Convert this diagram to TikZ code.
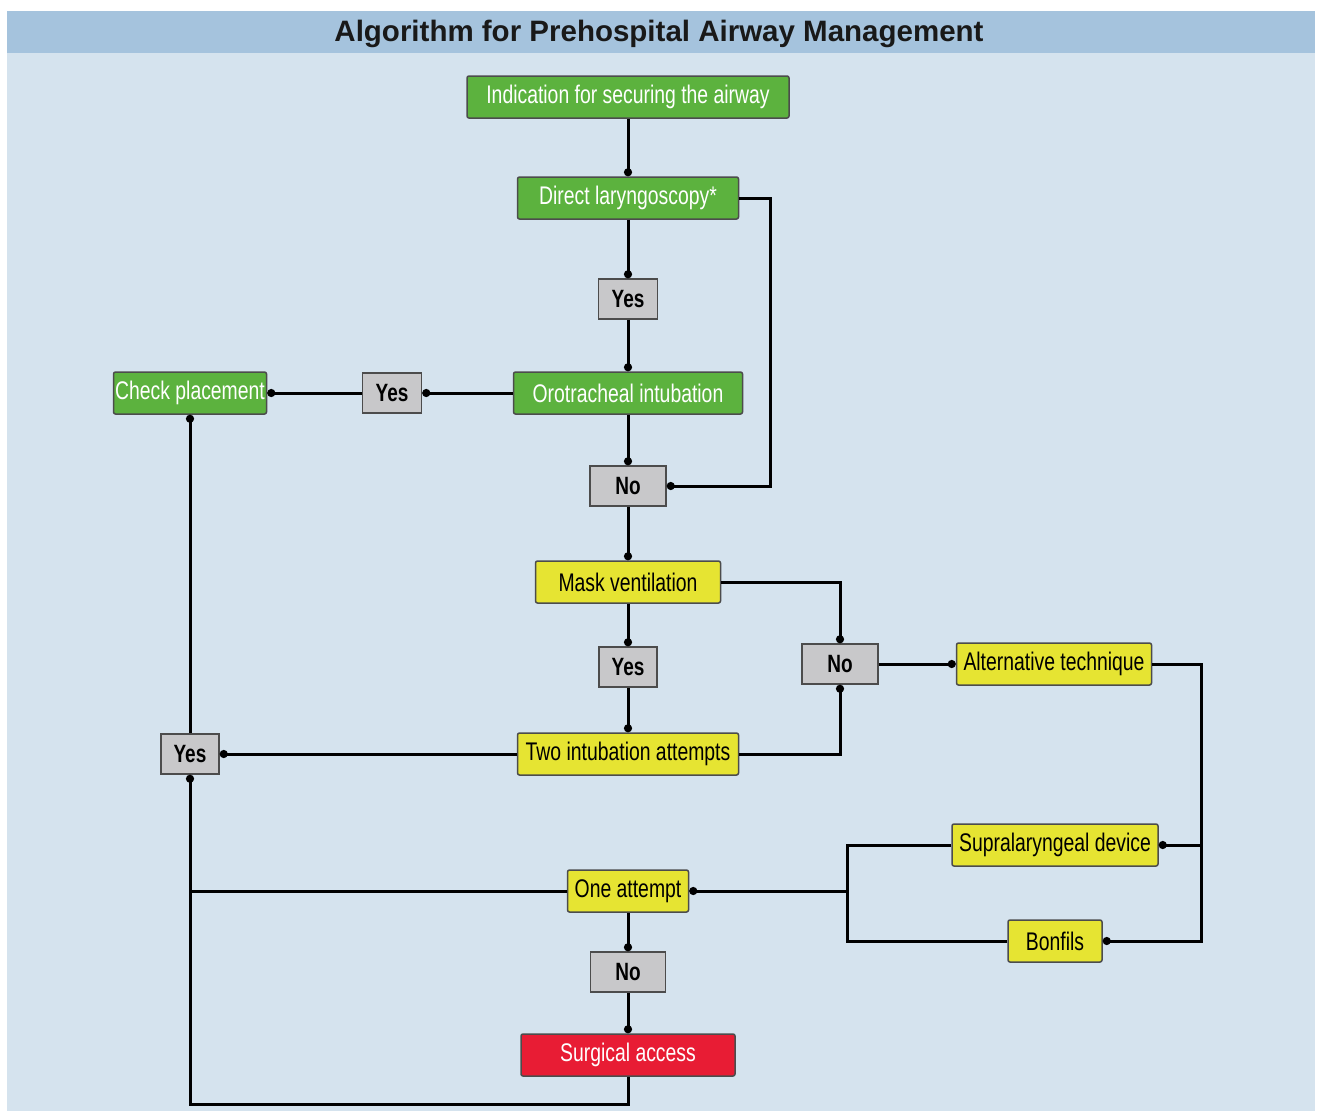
\documentclass[tikz,border=0pt]{standalone}
\usepackage{fontspec}
\setmainfont{Liberation Sans}
\newfontfamily\narrowfont[FakeStretch=0.76]{Liberation Sans}
\usetikzlibrary{arrows.meta}

\definecolor{sfondo}{RGB}{213,227,238}
\definecolor{barra}{RGB}{165,195,221}
\definecolor{verde}{RGB}{92,178,62}
\definecolor{giallo}{RGB}{230,228,50}
\definecolor{rosso}{RGB}{232,28,52}
\definecolor{grigio}{RGB}{200,200,202}

\tikzset{
	box/.style={draw=black!70, line width=1.5pt, rounded corners=2pt, inner sep=0pt,
		minimum height=42pt, font=\narrowfont\fontsize{25.5}{30}\selectfont},
	verdebox/.style={box, fill=verde, text=white},
	giallobox/.style={box, fill=giallo, text=black},
	rossobox/.style={box, fill=rosso, text=white},
	grigiobox/.style={box, fill=grigio, rounded corners=0pt, minimum height=40pt,
		font=\narrowfont\bfseries\fontsize{25}{30}\selectfont},
	linea/.style={line width=3pt, draw=black},
	freccia/.style={linea, -{Circle[length=8pt]}}
}

\begin{document}
\begin{tikzpicture}[x=1pt, y=-1pt]
	\useasboundingbox (0,0) rectangle (1318,1111);

	% Sfondo
	\fill[sfondo] (7,53) rectangle (1315,1111);
	\fill[barra] (7,11) rectangle (1315,53);
	\node[font=\bfseries\fontsize{29.5}{34}\selectfont, text=black!90] (titolo) at (659,34)
		{Algorithm for Prehospital Airway Management};

	% Blocchi
	\node[verdebox, minimum width=322pt] (indicazione) at (628,97) {Indication for securing the airway};
	\node[verdebox, minimum width=221pt] (diretta) at (628,198) {Direct laryngoscopy*};
	\node[grigiobox, minimum width=59pt] (si1) at (628,299) {Yes};
	\node[verdebox, minimum width=229pt] (orotracheale) at (628,393) {Orotracheal intubation};
	\node[grigiobox, minimum width=59pt] (si2) at (392,393) {Yes};
	\node[verdebox, minimum width=153pt] (controllo) at (190,393) {Check placement};
	\node[grigiobox, minimum width=76pt] (no1) at (628,486) {No};
	\node[giallobox, minimum width=185pt] (maschera) at (628,582) {Mask ventilation};
	\node[grigiobox, minimum width=58pt] (si3) at (628,667) {Yes};
	\node[grigiobox, minimum width=76pt] (no2) at (840,664) {No};
	\node[giallobox, minimum width=195pt] (alternativa) at (1054,664) {Alternative technique};
	\node[giallobox, minimum width=221pt] (due) at (628,754) {Two intubation attempts};
	\node[grigiobox, minimum width=58pt] (si4) at (190,754) {Yes};
	\node[giallobox, minimum width=206pt] (sopra) at (1055,845) {Supralaryngeal device};
	\node[giallobox, minimum width=121pt] (uno) at (628,891) {One attempt};
	\node[giallobox, minimum width=94pt] (bonfils) at (1055,941) {Bonfils};
	\node[grigiobox, minimum width=75pt] (no3) at (628,972) {No};
	\node[rossobox, minimum width=214pt] (chirurgico) at (628,1055) {Surgical access};

	\coordinate (nodo) at (847,891);
	\coordinate (fondo) at (190,1104);

	% Collegamenti
	\draw[freccia] (indicazione) -- (diretta);
	\draw[freccia] (diretta) -- (si1);
	\draw[freccia] (si1) -- (orotracheale);
	\draw[freccia] (orotracheale) -- (no1);
	\draw[freccia] (diretta.east) -- ++(31,0) |- (no1.east);
	\draw[freccia] (orotracheale) -- (si2);
	\draw[freccia] (si2) -- (controllo);
	\draw[freccia] (no1) -- (maschera);
	\draw[freccia] (maschera) -- (si3);
	\draw[freccia] (si3) -- (due);
	\draw[freccia] (maschera.east) -| (no2.north);
	\draw[freccia] (due.east) -| (no2.south);
	\draw[freccia] (no2) -- (alternativa);
	\draw[freccia] (alternativa.east) -- ++(49,0) |- (sopra.east);
	\draw[freccia] (alternativa.east) -- ++(49,0) |- (bonfils.east);
	\draw[linea] (sopra.west) -| (nodo);
	\draw[linea] (bonfils.west) -| (nodo);
	\draw[freccia] (nodo) -- (uno.east);
	\draw[freccia] (uno) -- (no3);
	\draw[freccia] (no3) -- (chirurgico);
	\draw[freccia] (uno.west) -| (si4.south);
	\draw[linea] (chirurgico.south) |- (fondo) -- (fondo |- uno.west);
	\draw[freccia] (due) -- (si4);
	\draw[freccia] (si4) -- (controllo);

\end{tikzpicture}
\end{document}
